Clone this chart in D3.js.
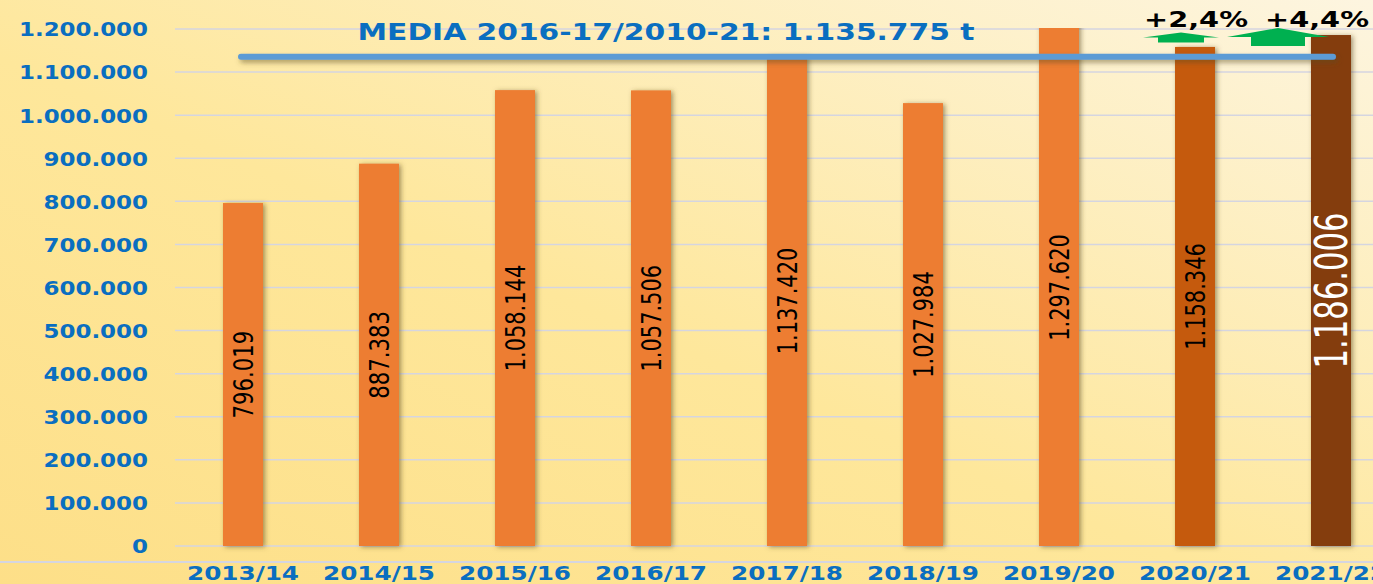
<!DOCTYPE html>
<html>
<head>
<meta charset="utf-8">
<script src="https://cdn.jsdelivr.net/npm/d3@7"></script>
<style>
  html, body { margin: 0; padding: 0; overflow: hidden; }
  svg { display: block; }
</style>
</head>
<body>
<svg id="chart" width="1373" height="584"></svg>
<script>
// campaigns and production (t)
const campaigns = ["2013/14", "2014/15", "2015/16", "2016/17", "2017/18", "2018/19", "2019/20", "2020/21", "2021/22"];
const production = [796019, 887383, 1058144, 1057506, 1137420, 1027984, 1297620, 1158346, 1186006];
const barColors = ["#ed7d31", "#ed7d31", "#ed7d31", "#ed7d31", "#ed7d31", "#ed7d31", "#ed7d31", "#c55a11", "#843c0c"];
const average = 1135775;
const yTicks = [0, 100000, 200000, 300000, 400000, 500000, 600000, 700000, 800000, 900000, 1000000, 1100000, 1200000];
const changes = [{ campaign: "2020/21", label: "+2,4%" }, { campaign: "2021/22", label: "+4,4%" }];

const width = 1373, height = 584;
const margin = { top: 29, left: 175 };
const plotRight = 1399;

const es = d3.formatLocale({ decimal: ",", thousands: ".", grouping: [3], currency: ["", " €"] });
const fmt = es.format(",d");

const svg = d3.select("#chart");
const defs = svg.append("defs");

const bg = defs.append("linearGradient").attr("id", "bg")
  .attr("x1", 0).attr("y1", 1).attr("x2", 1).attr("y2", 0);
bg.append("stop").attr("offset", 0).attr("stop-color", "#fddf88");
bg.append("stop").attr("offset", 0.45).attr("stop-color", "#fee79b");
bg.append("stop").attr("offset", 1).attr("stop-color", "#fdf5e0");

const shadow = defs.append("filter").attr("id", "shadow")
  .attr("x", "-30%").attr("y", "-10%").attr("width", "160%").attr("height", "130%");
shadow.append("feDropShadow").attr("dx", 2).attr("dy", 1).attr("stdDeviation", 2.5)
  .attr("flood-color", "#5a4a20").attr("flood-opacity", 0.55);

// horizontal line has no height, so its filter region is given in user space
const lineShadow = defs.append("filter").attr("id", "lineShadow")
  .attr("filterUnits", "userSpaceOnUse")
  .attr("x", 0).attr("y", 30).attr("width", width).attr("height", 60);
lineShadow.append("feDropShadow").attr("dx", 2).attr("dy", 3).attr("stdDeviation", 2.5)
  .attr("flood-color", "#5a4a20").attr("flood-opacity", 0.5);

defs.append("clipPath").attr("id", "plot").append("rect")
  .attr("x", margin.left).attr("y", margin.top - 1)
  .attr("width", plotRight - margin.left).attr("height", height - margin.top);

svg.append("rect").attr("width", width).attr("height", height).attr("fill", "url(#bg)");

const x = d3.scaleBand()
  .domain(campaigns)
  .range([margin.left, plotRight])
  .paddingInner(0.706)
  .paddingOuter(0.353);
const y = d3.scaleLinear()
  .domain([0, 1200000])
  .range([546, margin.top]);

// gridlines
svg.append("g")
  .selectAll("line")
  .data(yTicks)
  .join("line")
  .attr("x1", margin.left).attr("x2", width)
  .attr("y1", (d) => y(d)).attr("y2", (d) => y(d))
  .attr("stroke", "#d5d5e0").attr("stroke-width", 1.5);

// bottom line
svg.append("line")
  .attr("x1", 0).attr("x2", width).attr("y1", 562).attr("y2", 562)
  .attr("stroke", "#d5d5e0").attr("stroke-width", 2);

function textWidth(s, digit, other) {
  const digits = s.replace(/[^0-9]/g, "").length;
  return digits * digit + (s.length - digits) * other;
}

// y axis labels
const yAxis = svg.append("g")
  .attr("transform", `translate(${margin.left - 27}, 0)`)
  .call(d3.axisLeft(y).tickValues(yTicks).tickFormat(fmt).tickSize(0).tickPadding(0));
yAxis.select(".domain").remove();
yAxis.selectAll("text")
  .attr("fill", "#0a6ec0")
  .attr("font-family", "DejaVu Sans")
  .attr("font-weight", "bold")
  .attr("font-size", 19)
  .attr("lengthAdjust", "spacingAndGlyphs")
  .attr("textLength", (d) => textWidth(fmt(d), 16, 8.5))
  .attr("dy", "0.36em");

// x axis labels
const xAxis = svg.append("g")
  .attr("transform", `translate(0, 562)`)
  .call(d3.axisBottom(x).tickSize(0).tickPadding(0));
xAxis.select(".domain").remove();
xAxis.selectAll("text")
  .attr("fill", "#0a6ec0")
  .attr("font-family", "DejaVu Sans")
  .attr("font-weight", "bold")
  .attr("font-size", 20)
  .attr("lengthAdjust", "spacingAndGlyphs")
  .attr("textLength", 112)
  .attr("dy", 18);

// bars
const rows = campaigns.map((c, i) => ({ campaign: c, value: production[i], color: barColors[i] }));
svg.append("g")
  .attr("clip-path", "url(#plot)")
  .selectAll("rect")
  .data(rows)
  .join("rect")
  .attr("x", (d) => x(d.campaign))
  .attr("width", x.bandwidth())
  .attr("y", (d) => y(d.value))
  .attr("height", (d) => y(0) - y(d.value))
  .attr("fill", (d) => d.color)
  .attr("filter", "url(#shadow)");

// value labels (rotated)
svg.append("g")
  .selectAll("text")
  .data(rows)
  .join("text")
  .attr("transform", (d) => {
    const cx = x(d.campaign) + x.bandwidth() / 2;
    const cy = (Math.max(y(d.value), margin.top) + y(0)) / 2;
    return `translate(${cx}, ${cy}) rotate(-90)`;
  })
  .attr("text-anchor", "middle")
  .attr("dy", "0.36em")
  .attr("font-family", "DejaVu Sans")
  .attr("font-size", (d, i) => (i === rows.length - 1 ? 44 : 27))
  .attr("fill", (d, i) => (i === rows.length - 1 ? "#ffffff" : "#000000"))
  .attr("lengthAdjust", "spacingAndGlyphs")
  .attr("textLength", (d, i) => {
    const s = fmt(d.value);
    return i === rows.length - 1 ? textWidth(s, 20, 8) : textWidth(s, 13.8, 5);
  })
  .text((d) => fmt(d.value));

// average line
const first = campaigns[0], last = campaigns[campaigns.length - 1];
svg.append("line")
  .attr("x1", x(first) + x.bandwidth() / 2 - 2)
  .attr("x2", x(last) + x.bandwidth() / 2 + 2)
  .attr("y1", y(average)).attr("y2", y(average))
  .attr("stroke", "#5b9bd5")
  .attr("stroke-width", 6)
  .attr("stroke-linecap", "round")
  .attr("filter", "url(#lineShadow)");

svg.append("text")
  .attr("x", 666)
  .attr("y", 40)
  .attr("text-anchor", "middle")
  .attr("fill", "#0a6ec0")
  .attr("font-family", "DejaVu Sans")
  .attr("font-weight", "bold")
  .attr("font-size", 23)
  .attr("lengthAdjust", "spacingAndGlyphs")
  .attr("textLength", 617)
  .text(`MEDIA 2016-17/2010-21: ${fmt(average)} t`);

// growth arrows
const arrowShapes = [
  { dx: -14, head: 38, rise: 5, shaftW: 23, shaftH: 5, base: 37.5 },
  { dx: -53, head: 51, rise: 9, shaftW: 27, shaftH: 9, base: 37 }
];
changes.forEach((c, i) => {
  const a = arrowShapes[i];
  const cx = x(c.campaign) + x.bandwidth() / 2 + a.dx;
  const pts = [
    [cx - a.head, a.base], [cx, a.base - a.rise], [cx + a.head, a.base],
    [cx + a.shaftW, a.base], [cx + a.shaftW, a.base + a.shaftH],
    [cx - a.shaftW, a.base + a.shaftH], [cx - a.shaftW, a.base]
  ];
  svg.append("path")
    .attr("d", d3.line()(pts) + "Z")
    .attr("fill", "#00b050");
  svg.append("text")
    .attr("x", x(c.campaign) + x.bandwidth() / 2 + (i === 0 ? 1 : -14))
    .attr("y", 27)
    .attr("text-anchor", "middle")
    .attr("font-family", "DejaVu Sans")
    .attr("font-weight", "bold")
    .attr("font-size", 22)
    .attr("lengthAdjust", "spacingAndGlyphs")
    .attr("textLength", 104)
    .attr("fill", "#000")
    .text(c.label);
});
</script>
</body>
</html>
